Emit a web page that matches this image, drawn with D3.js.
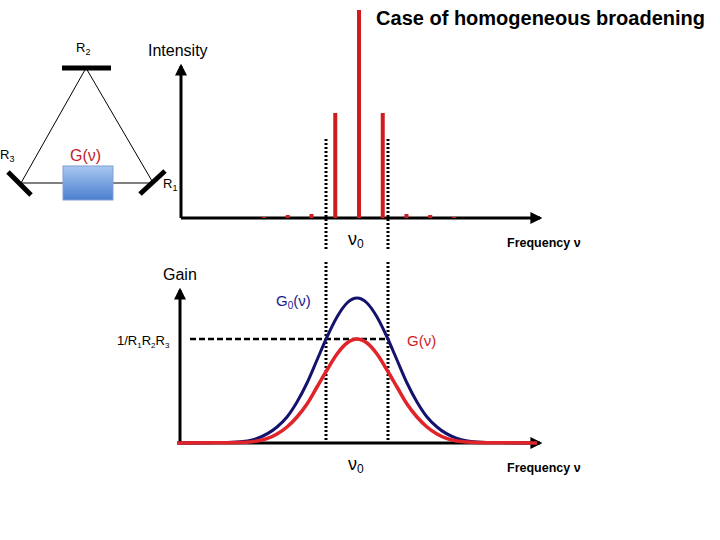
<!DOCTYPE html><html><head><meta charset="utf-8"><script src="https://cdn.jsdelivr.net/npm/d3@7"></script>
<style>body{margin:0;background:#fff}text{font-family:Arial,"Liberation Sans",sans-serif}</style></head><body>
<svg id="c" width="720" height="540"></svg>
<script>
// Spectral lines: mode offset index and intensity (relative)
const modeIndex=[-4,-3,-2,-1,0,1,2,3,4];
const modeIntensity=[1,3,4,105,208,105,4,3,1];
// Gain curves: frequency offset and gain values
const freqOffsets=[-180,-150,-120,-100,-80,-70,-60,-50,-40,-30,-20,-10,0,10,20,30,40,50,60,70,80,100,120,150,180];
const gainG0=[0,0.3,1.1,4.6,16,26,41,60,83,106,126,140,145,140,126,106,83,60,41,26,16,4.6,1.1,0.3,0];
const gainG=[0,0.2,0.5,2,9,16,26,39,56,73,89,100,104,100,89,73,56,39,26,16,9,2,0.5,0.2,0];
const threshold=104;

const svg=d3.select("#c");
const defs=svg.append("defs");
const mk=defs.append("marker").attr("id","ar").attr("viewBox","0 0 10 10").attr("refX",8).attr("refY",5).attr("markerWidth",4).attr("markerHeight",4).attr("orient","auto");
mk.append("path").attr("d","M0,0L10,5L0,10z").attr("fill","#000");
const gr=defs.append("linearGradient").attr("id","bx").attr("x1",0).attr("y1",0).attr("x2",0).attr("y2",1);
gr.append("stop").attr("offset",0).attr("stop-color","#a9c7f0");
gr.append("stop").attr("offset",1).attr("stop-color","#4a7fcf");

// Cavity
const g=svg.append("g");
g.append("line").attr("x1",86).attr("y1",68).attr("x2",21).attr("y2",183).attr("stroke","#000");
g.append("line").attr("x1",86).attr("y1",68).attr("x2",152).attr("y2",181).attr("stroke","#000");
g.append("line").attr("x1",21).attr("y1",183).attr("x2",152).attr("y2",183).attr("stroke","#000");
g.append("line").attr("x1",62).attr("y1",68).attr("x2",111).attr("y2",68).attr("stroke","#000").attr("stroke-width",5);
g.append("line").attr("x1",8).attr("y1",172).attr("x2",31).attr("y2",195).attr("stroke","#000").attr("stroke-width",5);
g.append("line").attr("x1",140).attr("y1",194).attr("x2",165).attr("y2",171).attr("stroke","#000").attr("stroke-width",5);
g.append("rect").attr("x",63).attr("y",166).attr("width",50).attr("height",34).attr("fill","url(#bx)").attr("stroke","#7fa0d0");
g.append("text").attr("x",76).attr("y",52).attr("font-size",13).html('R<tspan font-size="9" dy="3">2</tspan>');
g.append("text").attr("x",0).attr("y",159).attr("font-size",13).html('R<tspan font-size="9" dy="3">3</tspan>');
g.append("text").attr("x",163).attr("y",188).attr("font-size",13).html('R<tspan font-size="9" dy="3">1</tspan>');
g.append("text").attr("x",70).attr("y",161).attr("font-size",16).attr("fill","#c0202a").text("G(ν)");

// Top chart
const x1=d3.scaleLinear().domain([-7.5,7.5]).range([181,537]);
const yI=d3.scaleLinear().domain([0,208]).range([218,10]);
svg.append("line").attr("x1",181).attr("y1",218).attr("x2",181).attr("y2",66).attr("stroke","#000").attr("stroke-width",3).attr("marker-end","url(#ar)");
svg.append("line").attr("x1",181).attr("y1",218).attr("x2",540).attr("y2",218).attr("stroke","#000").attr("stroke-width",3).attr("marker-end","url(#ar)");
svg.selectAll(".m").data(modeIndex).enter().append("line")
 .attr("x1",d=>x1(d)).attr("x2",d=>x1(d)).attr("y1",218).attr("y2",(d,i)=>yI(modeIntensity[i]))
 .attr("stroke","#d01c1f").attr("stroke-width",4);
svg.append("text").attr("x",148).attr("y",56).attr("font-size",16).text("Intensity");
svg.append("text").attr("x",705).attr("y",25).attr("text-anchor","end").attr("font-size",20).attr("font-weight","bold").text("Case of homogeneous broadening");
svg.append("text").attr("x",348).attr("y",245).attr("font-size",18).html('ν<tspan font-size="12" dy="3">0</tspan>');
svg.append("text").attr("x",507).attr("y",247).attr("font-size",12.5).attr("font-weight","bold").text("Frequency ν");

// Dotted lines
[[139,250],[262,443]].forEach(([a,b])=>[326,388].forEach(xx=>svg.append("line").attr("x1",xx).attr("x2",xx).attr("y1",a).attr("y2",b).attr("stroke","#000").attr("stroke-width",3).attr("stroke-dasharray","2,2")));

// Bottom chart
const x2=d3.scaleLinear().domain([-180,180]).range([177,537]);
const yG=d3.scaleLinear().domain([0,145]).range([443,298]);
svg.append("line").attr("x1",180).attr("y1",443).attr("x2",180).attr("y2",290).attr("stroke","#000").attr("stroke-width",3).attr("marker-end","url(#ar)");
svg.append("line").attr("x1",180).attr("y1",443).attr("x2",540).attr("y2",443).attr("stroke","#000").attr("stroke-width",3).attr("marker-end","url(#ar)");
svg.append("line").attr("x1",190).attr("x2",388).attr("y1",yG(threshold)).attr("y2",yG(threshold)).attr("stroke","#000").attr("stroke-width",2.5).attr("stroke-dasharray","6,3");
const ln=(arr)=>d3.line().x((d,i)=>x2(freqOffsets[i])).y(d=>yG(d)).curve(d3.curveMonotoneX)(arr);
svg.append("path").attr("d",ln(gainG0)).attr("fill","none").attr("stroke","#13136e").attr("stroke-width",3);
svg.append("path").attr("d",ln(gainG)).attr("fill","none").attr("stroke","#e0242a").attr("stroke-width",3.5);
svg.append("text").attr("x",163).attr("y",280).attr("font-size",16).text("Gain");
svg.append("text").attr("x",276).attr("y",306).attr("font-size",15).attr("fill","#1a1a90").html('G<tspan font-size="10" dy="3">0</tspan><tspan dy="-3">(ν)</tspan>');
svg.append("text").attr("x",407).attr("y",346).attr("font-size",15).attr("fill","#d01c1f").text("G(ν)");
svg.append("text").attr("x",117).attr("y",345).attr("font-size",13).html('1/R<tspan font-size="8" dy="3">1</tspan><tspan dy="-3">R</tspan><tspan font-size="8" dy="3">2</tspan><tspan dy="-3">R</tspan><tspan font-size="8" dy="3">3</tspan>');
svg.append("text").attr("x",348).attr("y",470).attr("font-size",18).html('ν<tspan font-size="12" dy="3">0</tspan>');
svg.append("text").attr("x",507).attr("y",472).attr("font-size",12.5).attr("font-weight","bold").text("Frequency ν");
</script></body></html>
